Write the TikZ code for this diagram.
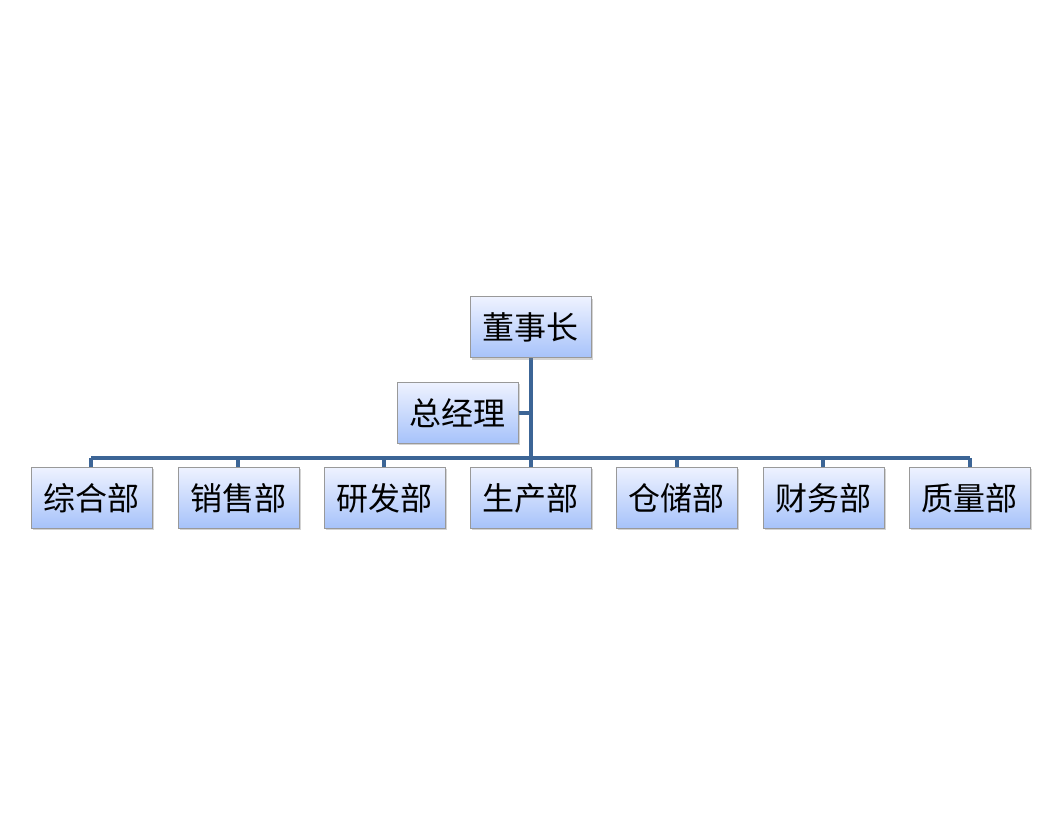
\documentclass[tikz,border=0pt]{standalone}
\usepackage{fontspec}
\newfontfamily\cjk{Noto Sans CJK SC}
\usetikzlibrary{shadows}
\definecolor{lc}{HTML}{3C6596}
\definecolor{gtop}{HTML}{EEF2FF}
\definecolor{gbot}{HTML}{A6C2FA}
\tikzset{
  box/.style={draw=gray!80, line width=1pt, top color=gtop, bottom color=gbot,
    minimum width=121pt, minimum height=61pt, inner sep=0pt,
    font=\cjk\fontsize{32}{34}\selectfont,
    drop shadow={shadow xshift=2pt, shadow yshift=-2pt, opacity=0.35}},
  conn/.style={draw=lc, line width=3.5pt}
}
\begin{document}
\begin{tikzpicture}[x=1pt,y=1pt]
\useasboundingbox (0,0) rectangle (1060,828);
\coordinate (bar) at (531,370);
\coordinate (mid) at (531,415);
\draw[conn] (531,470) -- (bar);
\draw[conn] (91,370) -- (970,370);
\foreach \x in {91,238,384,531,677,823,970}{\draw[conn] (\x,370) -- (\x,350);}
\node[box] (dsz) at (530.5,500.5) {董事长};
\node[box] (zjl) at (457.5,415) {总经理};
\draw[conn] (zjl.east) -- (mid);
\node[box] (a) at (91.5,330) {综合部};
\node[box] (b) at (238.5,330) {销售部};
\node[box] (c) at (384.5,330) {研发部};
\node[box] (d) at (530.5,330) {生产部};
\node[box] (e) at (676.5,330) {仓储部};
\node[box] (f) at (823.5,330) {财务部};
\node[box] (g) at (969.5,330) {质量部};
\end{tikzpicture}
\end{document}
